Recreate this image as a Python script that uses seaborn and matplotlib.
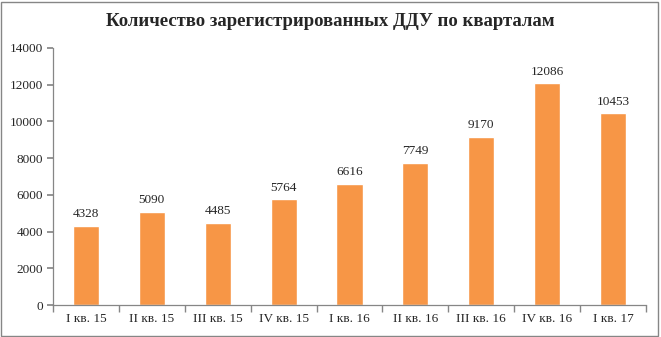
import matplotlib
matplotlib.use("Agg")
import matplotlib.pyplot as plt
import seaborn as sns
import pandas as pd
from matplotlib.patches import Rectangle

categories = ["I кв. 15", "II кв. 15", "III кв. 15", "IV кв. 15", "I кв. 16",
              "II кв. 16", "III кв. 16", "IV кв. 16", "I кв. 17"]
values = [4328, 5090, 4485, 5764, 6616, 7749, 9170, 12086, 10453]
title = "Количество зарегистрированных ДДУ по кварталам"
bar_color = "#F79646"

sns.set_theme(style="white")
plt.rcParams["font.family"] = ["Liberation Serif", "DejaVu Serif"]

df = pd.DataFrame({"cat": categories, "val": values})

fig = plt.figure(figsize=(6.61, 3.37), dpi=100)
ax = fig.add_axes([53/661, 1-305/337, (646-53)/661, (305-48)/337])
sns.barplot(data=df, x="cat", y="val", color=bar_color, saturation=1, width=0.395, ax=ax)

ax.set_ylim(0, 14000)
ax.set_yticks(range(0, 14001, 2000))
ax.set_xlim(-0.5, len(categories)-0.5)
ax.set_xlabel("")
ax.set_ylabel("")
for s in ["top", "right"]:
    ax.spines[s].set_visible(False)
for s in ["left", "bottom"]:
    ax.spines[s].set_color("#868686")
    ax.spines[s].set_linewidth(0.9)

ax.tick_params(axis="y", which="both", direction="out", length=4, color="#868686",
               labelsize=9.5, pad=3, left=True)
ax.set_xticks(range(len(categories)))
ax.set_xticklabels(categories, fontsize=9.5)
ax.tick_params(axis="x", which="major", length=0, pad=6, labelsize=9.5)
ax.set_xticks([i - 0.5 for i in range(len(categories)+1)], minor=True)
ax.tick_params(axis="x", which="minor", direction="out", length=5, color="#868686", bottom=True)

for c in ax.containers:
    ax.bar_label(c, labels=[str(v) for v in values], padding=4, fontsize=9.5)

fig.text(0.5, 1-21/337, title, ha="center", va="center", fontsize=13.5, fontweight="bold")

fig.patches.append(Rectangle((1/661, 1/337), 1-4/661, 1-3/337, transform=fig.transFigure,
                             fill=False, edgecolor="#868686", linewidth=1.0))

fig.savefig("out.png", dpi=100)
